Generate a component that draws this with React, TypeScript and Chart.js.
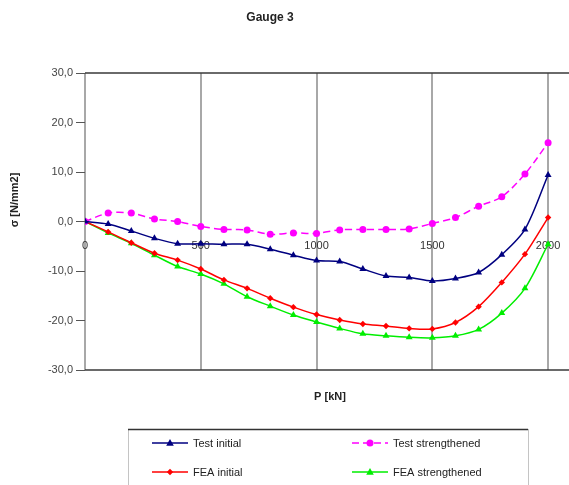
import React, { useEffect, useRef } from "react";
import { Chart, registerables } from "chart.js";

Chart.register(...registerables);

const loads = [0, 100, 200, 300, 400, 500, 600, 700, 800, 900, 1000, 1100, 1200, 1300, 1400, 1500, 1600, 1700, 1800, 1900, 2000];
const testInitial = [0, -0.5, -1.9, -3.4, -4.5, -4.5, -4.6, -4.6, -5.6, -6.8, -7.9, -8.1, -9.6, -11.0, -11.3, -12.0, -11.5, -10.3, -6.7, -1.6, 9.4];
const testStrengthened = [0, 1.7, 1.7, 0.5, 0.0, -1.0, -1.6, -1.7, -2.6, -2.3, -2.4, -1.7, -1.6, -1.6, -1.5, -0.4, 0.8, 3.1, 5.0, 9.6, 15.9];
const feaInitial = [0, -2.1, -4.3, -6.4, -7.8, -9.6, -11.8, -13.5, -15.5, -17.3, -18.8, -19.9, -20.7, -21.1, -21.6, -21.7, -20.4, -17.2, -12.3, -6.6, 0.8];
const feaStrengthened = [0, -2.3, -4.4, -6.8, -9.1, -10.6, -12.6, -15.2, -17.1, -18.9, -20.3, -21.6, -22.7, -23.1, -23.4, -23.5, -23.1, -21.8, -18.5, -13.5, -4.6];
const seriesNames = ["Test initial", "Test strengthened", "FEA initial", "FEA strengthened"];
const xTickValues = [0, 500, 1000, 1500, 2000];
const chartTitle = "Gauge 3";
const xTitle = "P [kN]";
const yTitle = "σ [N/mm2]";

const FONT = 'Arial, "Liberation Sans", sans-serif';

const toPoints = (ys: number[]) => ys.map((y, i) => ({ x: loads[i], y }));

function drawMarker(ctx: CanvasRenderingContext2D, style: string, r: number, x: number, y: number) {
  ctx.beginPath();
  if (style === "circle") {
    ctx.arc(x, y, r, 0, Math.PI * 2);
  } else if (style === "triangle") {
    ctx.moveTo(x, y - r);
    ctx.lineTo(x + r * 0.95, y + r * 0.7);
    ctx.lineTo(x - r * 0.95, y + r * 0.7);
    ctx.closePath();
  } else {
    ctx.moveTo(x, y - r);
    ctx.lineTo(x + r, y);
    ctx.lineTo(x, y + r);
    ctx.lineTo(x - r, y);
    ctx.closePath();
  }
  ctx.fill();
}

const decorPlugin = {
  id: "decor",
  afterDraw(chart: any) {
    const ctx = chart.ctx;
    const a = chart.chartArea;
    ctx.save();
    // plot border lines top / bottom (frame runs off the cropped right edge)
    ctx.strokeStyle = "#3a3a3a";
    ctx.lineWidth = 1.5;
    ctx.beginPath();
    ctx.moveTo(a.left, a.top);
    ctx.lineTo(chart.width, a.top);
    ctx.moveTo(a.left, a.bottom);
    ctx.lineTo(chart.width, a.bottom);
    ctx.stroke();

    // titles
    ctx.fillStyle = "#222";
    ctx.textAlign = "center";
    ctx.textBaseline = "middle";
    ctx.font = `bold 12px ${FONT}`;
    ctx.fillText(chartTitle, 270, 18);
    ctx.font = `bold 11px ${FONT}`;
    ctx.fillText(xTitle, 330, 397);
    ctx.save();
    ctx.translate(15, 200);
    ctx.rotate(-Math.PI / 2);
    ctx.fillText(yTitle, 0, 0);
    ctx.restore();

    // legend box
    const bx = 128, by = 429, bw = 400, bh = 70;
    ctx.strokeStyle = "#c4c4c4";
    ctx.lineWidth = 1;
    ctx.strokeRect(bx + 0.5, by + 0.5, bw, bh);
    ctx.strokeStyle = "#333";
    ctx.lineWidth = 1.5;
    ctx.beginPath();
    ctx.moveTo(bx, by + 0.5);
    ctx.lineTo(bx + bw, by + 0.5);
    ctx.stroke();
    const pos = [
      [152, 443],
      [352, 443],
      [152, 472],
      [352, 472],
    ];
    chart.data.datasets.forEach((ds: any, i: number) => {
      const [x, y] = pos[i];
      ctx.save();
      ctx.strokeStyle = ds.borderColor;
      ctx.lineWidth = 1.5;
      ctx.setLineDash(ds.borderDash || []);
      ctx.beginPath();
      ctx.moveTo(x, y);
      ctx.lineTo(x + 36, y);
      ctx.stroke();
      ctx.setLineDash([]);
      ctx.fillStyle = ds.pointBackgroundColor;
      drawMarker(ctx, ds.pointStyle, ds.pointRadius, x + 18, y);
      ctx.restore();
      ctx.fillStyle = "#222";
      ctx.textAlign = "left";
      ctx.textBaseline = "middle";
      ctx.font = `11px ${FONT}`;
      ctx.fillText(ds.label, x + 41, y + 1);
    });
    ctx.restore();
  },
};

export default function App() {
  const ref = useRef<HTMLCanvasElement | null>(null);
  useEffect(() => {
    if (!ref.current) return;
    const mk = (label: string, ys: number[], color: string, style: string, r: number, dash: number[] = []) => ({
      label,
      data: toPoints(ys),
      borderColor: color,
      backgroundColor: color,
      pointBackgroundColor: color,
      pointBorderColor: color,
      pointStyle: style,
      pointRadius: r,
      pointBorderWidth: 0,
      borderWidth: 1.5,
      borderDash: dash,
      tension: 0.3,
      fill: false,
      showLine: true,
    });
    const chart = new Chart(ref.current, {
      type: "scatter",
      data: {
        datasets: [
          mk(seriesNames[0], testInitial, "#000080", "triangle", 4),
          mk(seriesNames[1], testStrengthened, "#ff00ff", "circle", 3.5, [7, 4]),
          mk(seriesNames[2], feaInitial, "#ff0000", "rectRot", 3.2),
          mk(seriesNames[3], feaStrengthened, "#00ee00", "triangle", 4),
        ] as any,
      },
      options: {
        animation: false,
        responsive: false,
        events: [],
        layout: { padding: { top: 73, bottom: 115, left: 0, right: 0 } },
        plugins: { legend: { display: false }, title: { display: false }, tooltip: { enabled: false } },
        scales: {
          x: {
            type: "linear",
            position: { y: 0 } as any,
            min: 0,
            max: 2073,
            afterBuildTicks: (scale: any) => {
              scale.ticks = xTickValues.map((v) => ({ value: v }));
            },
            grid: { color: "#a8a8a8", lineWidth: 2, drawTicks: true, tickLength: 17, tickColor: "rgba(0,0,0,0)" },
            border: { display: false },
            ticks: {
              color: "#333",
              font: { family: FONT, size: 11 },
              padding: 1,
              maxRotation: 0,
              autoSkip: false,
              callback: (v: any) => String(v),
            },
          },
          y: {
            type: "linear",
            position: "left",
            min: -30,
            max: 30,
            afterFit: (scale: any) => {
              scale.width = 85;
            },
            grid: { drawOnChartArea: false, drawTicks: true, tickLength: 9, color: "#555", lineWidth: 1 },
            border: { display: false },
            ticks: {
              stepSize: 10,
              color: "#444",
              font: { family: FONT, size: 11 },
              padding: 3,
              callback: (v: any) => Number(v).toFixed(1).replace(".", ","),
            },
          },
        },
      } as any,
      plugins: [decorPlugin],
    });
    return () => chart.destroy();
  }, []);
  return (
    <div style={{ position: "absolute", left: 0, top: 0, width: 569, height: 485, background: "#fff" }}>
      <canvas ref={ref} width={569} height={485} />
    </div>
  );
}
